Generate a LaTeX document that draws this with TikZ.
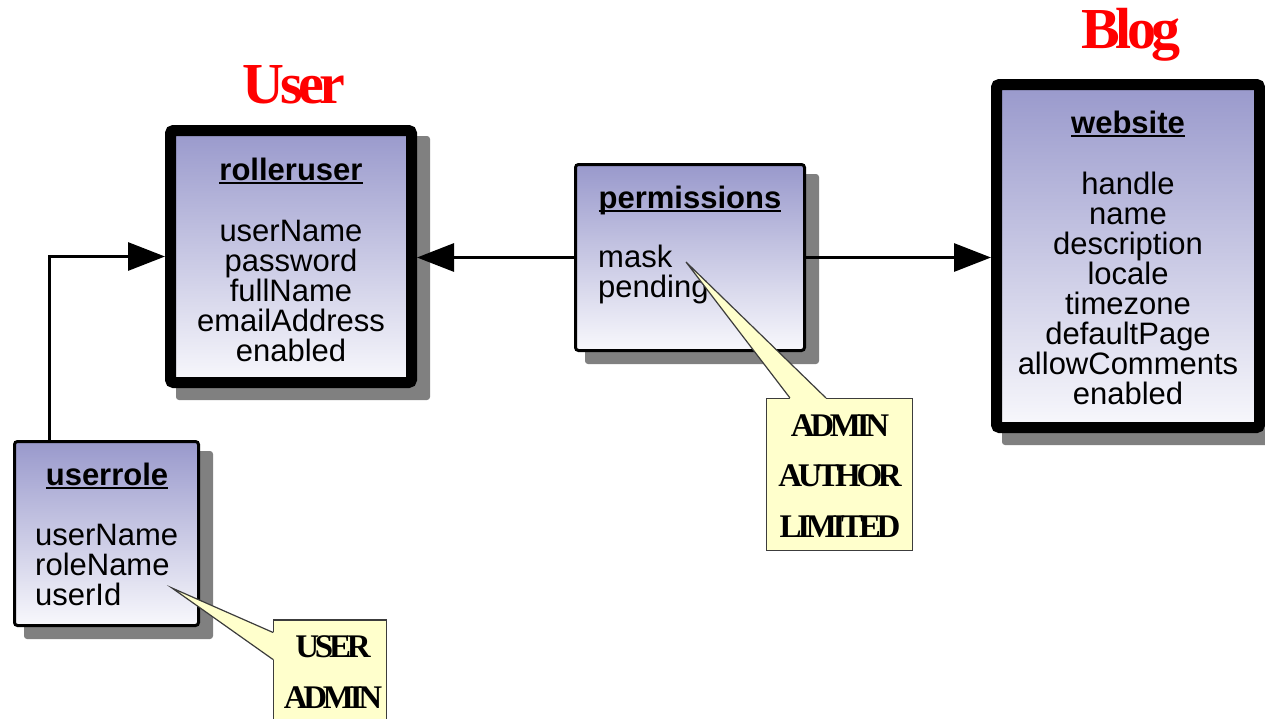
\documentclass[tikz,border=0pt]{standalone}
\usepackage{fontspec}
\setmainfont{Liberation Sans}
\newfontfamily\headserif{Liberation Serif}[LetterSpace=-8]
\newfontfamily\noteserif{Liberation Serif}[LetterSpace=-13]
\usetikzlibrary{arrows.meta,backgrounds,calc}

\definecolor{boxtop}{RGB}{153,153,204}
\definecolor{boxbottom}{RGB}{248,248,252}
\definecolor{shadowgray}{RGB}{128,128,128}
\definecolor{noteyellow}{RGB}{255,255,204}
\definecolor{noteline}{RGB}{60,60,60}

% bold title with a flat underline
\newcommand{\enttitle}[1]{\setbox0=\hbox{\bfseries #1}\rlap{\rule[-4pt]{\wd0}{2pt}}\box0}

\begin{document}
\begin{tikzpicture}[x=1pt,y=-1pt,
	entity/.style={draw,rounded corners=3pt,top color=boxtop,bottom color=boxbottom,inner sep=0pt},
	thickbox/.style={line width=11pt},
	thinbox/.style={line width=3pt},
	attr/.style={font=\fontsize{31}{30}\selectfont,inner sep=0pt},
	bigtitle/.style={font=\headserif\bfseries\fontsize{58}{60}\selectfont,text=red,inner sep=0pt},
	note/.style={draw=noteline,fill=noteyellow,line width=1.2pt,inner sep=0pt},
	notetext/.style={font=\noteserif\bfseries\fontsize{33}{50.5}\selectfont,align=center,inner sep=0pt},
	conn/.style={line width=3pt,-{Triangle[length=37pt,width=28pt]}}]
\useasboundingbox (0,0) rectangle (1265,718);
\clip (0,0) rectangle (1265,718);

% groups
\node[bigtitle,anchor=base] (usertitle) at (294,103) {User};
\node[bigtitle,anchor=base] (blogtitle) at (1131,48) {Blog};

% tables
\node[entity,thickbox,minimum width=241pt,minimum height=252pt] (ruser) at (291,256.5) {};
\node[entity,thinbox,minimum width=229pt,minimum height=186pt] (perm) at (690,257.5) {};
\node[entity,thinbox,minimum width=184pt,minimum height=184pt] (urole) at (106.5,533.5) {};
\node[entity,thickbox,minimum width=263pt,minimum height=343pt] (web) at (1128,256) {};

% shadows
\begin{pgfonlayer}{background}
\foreach \n in {ruser,perm,urole,web}
	\fill[shadowgray,rounded corners=3pt] ($(\n.south west)+(11,12)$) rectangle ($(\n.north east)+(13,11)$);
\end{pgfonlayer}

% columns (base = last line)
\node[attr,anchor=base] (ruser-t) at (291,180) {\enttitle{rolleruser}};
\node[attr,align=center,anchor=base] (ruser-b) at (291,361) {userName\\password\\fullName\\emailAddress\\enabled};
\node[attr,anchor=base] (perm-t) at (690,208) {\enttitle{permissions}};
\node[attr,align=left,anchor=base west] (perm-b) at (598,297) {mask\\pending};
\node[attr,anchor=base] (urole-t) at (107,485) {\enttitle{userrole}};
\node[attr,align=left,anchor=base west] (urole-b) at (35,605) {userName\\roleName\\userId};
\node[attr,anchor=base] (web-t) at (1128,133) {\enttitle{website}};
\node[attr,align=center,anchor=base] (web-b) at (1128,404) {handle\\name\\description\\locale\\timezone\\defaultPage\\allowComments\\enabled};

% links
\coordinate (bend) at (49,256.5);
\draw[conn] (perm.west) -- (perm.west -| ruser.east);
\draw[conn] (perm.east) -- (perm.east -| web.west);
\draw[conn] (bend |- urole.north) -- (bend) -- (ruser.west);

% notes
\node[note,minimum width=146pt,minimum height=152pt] (permnote) at (839.5,474.5) {};
\node[note,minimum width=113pt,minimum height=140pt] (rolenote) at (330,690) {};
\coordinate (permtip) at (686,262);
\coordinate (roletip) at (172,588);
\coordinate (pa) at ($(permnote.north west)+(24,0)$);
\coordinate (pb) at ($(permnote.north west)+(60,0)$);
\coordinate (ra) at ($(rolenote.north west)+(0,13)$);
\coordinate (rb) at ($(rolenote.north west)+(0,40)$);
\fill[noteyellow] (permtip) -- (pa) -- ($(pa)+(0,3)$) -- ($(pb)+(0,3)$) -- (pb) -- cycle;
\fill[noteyellow] (roletip) -- (ra) -- ($(ra)+(3,0)$) -- ($(rb)+(3,0)$) -- (rb) -- cycle;
\draw[noteline,line width=1.2pt] (pa) -- (permtip) -- (pb);
\draw[noteline,line width=1.2pt] (ra) -- (roletip) -- (rb);
\node[notetext,anchor=base] (permnote-t) at (840,537) {ADMIN\\AUTHOR\\LIMITED};
\node[notetext,anchor=base] (rolenote-t) at (333,708) {USER\\ADMIN};
\end{tikzpicture}
\end{document}
